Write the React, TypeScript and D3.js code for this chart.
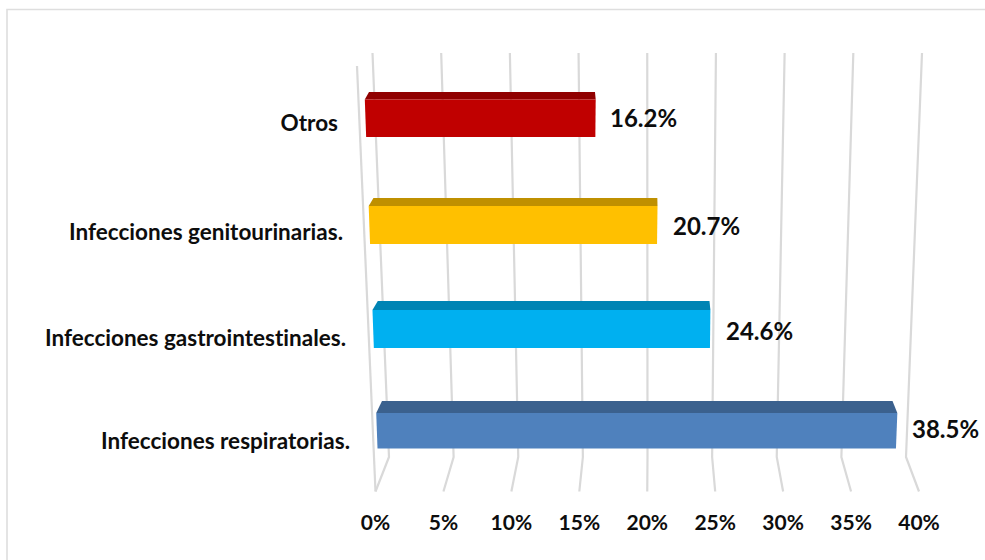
import React from "react";
import * as d3 from "d3";

const categories = [
  "Otros",
  "Infecciones genitourinarias.",
  "Infecciones gastrointestinales.",
  "Infecciones respiratorias.",
];
const values = [16.2, 20.7, 24.6, 38.5];
const faceColors = ["#c00000", "#ffc000", "#00b0f0", "#4f81bd"];
const topColors = ["#900000", "#bf9000", "#0084b4", "#3b618e"];
const ticks = [0, 5, 10, 15, 20, 25, 30, 35, 40];
const faceTops = [99.5, 206, 310, 413];
const faceBottoms = [137, 244, 348, 448.5];
const capTops = [92, 198, 301, 401];
const labelX = [610, 673, 726, 912];
const labelY = [127, 235, 340, 438];
const catRight = [338, 343, 346, 350];
const catY = [131, 240, 346, 449];

const FONT = "Lato, Carlito, sans-serif";
const GRID = "#d9d9d9";
const TEXT_STYLE = { fontVariantLigatures: "none" } as const;

// Floor and wall edges of the 3D plot box.
const wallTop = d3.scaleLinear().domain([0, 40]).range([372.5, 922]);
const wallBottom = d3.scaleLinear().domain([0, 40]).range([389, 906]);
const floorFront = d3.scaleLinear().domain([0, 40]).range([375.5, 919]);

// Perspective: origin and unit width of the bar planes change with the screen row.
const faceOrigin = d3.scaleLinear().domain([99.5, 448]).range([364.8, 377.5]);
const faceUnit = d3.scaleLinear().domain([118, 225, 329, 431]).range([14.2, 13.9, 13.7, 13.5]);
const capOrigin = d3.scaleLinear().domain([92, 401]).range([369, 382]);
const capUnit = d3.scaleLinear().domain([92, 401]).range([13.95, 13.26]);

const poly = d3.line<[number, number]>();

export default function App() {
  return (
    <svg
      width={985}
      height={560}
      style={{ position: "absolute", left: 0, top: 0, background: "#fff" }}
    >
      <path d="M7 560V9.5H985" fill="none" stroke="#dedede" strokeWidth={1.6} />
      <line x1={357} y1={66} x2={floorFront(0)} y2={491.5} stroke={GRID} strokeWidth={2.2} />
      {ticks.map((t) => (
        <g key={t} stroke={GRID} strokeWidth={2.2} fill="none">
          <path d={poly([[wallTop(t), 53], [wallBottom(t), 457], [floorFront(t), 491.5]]) ?? ""} />
        </g>
      ))}
      {values.map((v, i) => {
        const yT = faceTops[i];
        const yB = faceBottoms[i];
        const yC = capTops[i];
        const front = (val: number, y: number) => faceOrigin(y) + val * faceUnit(y);
        const back = (val: number) => capOrigin(yC) + val * capUnit(yC);
        const face: [number, number][] = [
          [front(0, yT), yT],
          [front(v, yT), yT],
          [front(v, yB), yB],
          [front(0, yB), yB],
        ];
        const cap: [number, number][] = [
          [back(0), yC],
          [back(v), yC],
          [front(v, yT), yT],
          [front(0, yT), yT],
        ];
        return (
          <g key={categories[i]}>
            <path d={(poly(cap) ?? "") + "Z"} fill={topColors[i]} />
            <path d={(poly(face) ?? "") + "Z"} fill={faceColors[i]} />
            <text
              x={labelX[i]}
              y={labelY[i]}
              fontFamily={FONT}
              fontWeight={700}
              fontSize={24}
              fill="#0d0d0d"
              style={TEXT_STYLE}
            >
              {v.toFixed(1)}%
            </text>
            <text
              x={catRight[i]}
              y={catY[i]}
              textAnchor="end"
              fontFamily={FONT}
              fontWeight={700}
              fontSize={22.5}
              fill="#0d0d0d"
              style={TEXT_STYLE}
            >
              {categories[i]}
            </text>
          </g>
        );
      })}
      {ticks.map((t) => (
        <text
          key={t}
          x={floorFront(t)}
          y={530}
          textAnchor="middle"
          fontFamily={FONT}
          fontWeight={700}
          fontSize={21}
          fill="#0d0d0d"
          style={TEXT_STYLE}
        >
          {t}%
        </text>
      ))}
    </svg>
  );
}
